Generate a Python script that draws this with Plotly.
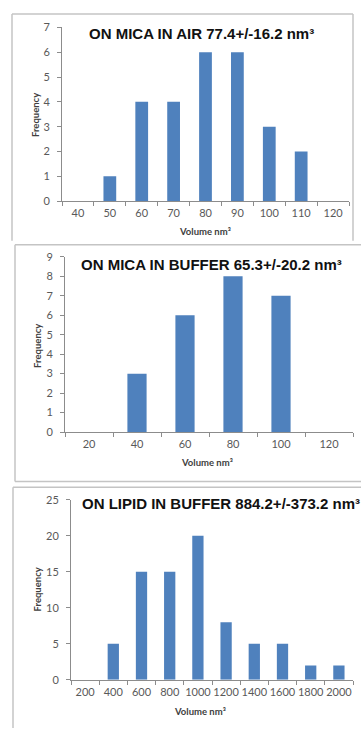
import plotly.graph_objects as go

W, H = 361, 734

cats1 = ["40", "50", "60", "70", "80", "90", "100", "110", "120"]
freq1 = [0, 1, 4, 4, 6, 6, 3, 2, 0]
title1 = "ON MICA IN AIR 77.4+/-16.2 nm³"

cats2 = ["20", "40", "60", "80", "100", "120"]
freq2 = [0, 3, 6, 8, 7, 0]
title2 = "ON MICA IN BUFFER 65.3+/-20.2 nm³"

cats3 = ["200", "400", "600", "800", "1000", "1200", "1400", "1600", "1800", "2000"]
freq3 = [0, 5, 15, 15, 20, 8, 5, 5, 2, 2]
title3 = "ON LIPID IN BUFFER 884.2+/-373.2 nm³"

xlabel = "Volume nm³"
ylabel = "Frequency"

BAR = "#4F81BD"
AXC = "#8c8c8c"
TICKC = "#595959"
TFONT = "Lato"


def px_x(x):
    return x / W


def px_y(y):
    return 1 - y / H


# (x_left, x_right, y_bottom(0), y_top(max)) in pixels
panels = [
    (cats1, freq1, 62, 349, 197.7, 20.7, 7, 1),
    (cats2, freq2, 65, 353, 432.7, 254.3, 9, 1),
    (cats3, freq3, 71, 353, 685, 501.7, 25, 5),
]

fig = go.Figure()
layout = {}
annotations = []
for i, (cats, vals, xl, xr, yb, yt, ymax, dt) in enumerate(panels, start=1):
    xa = "x" if i == 1 else f"x{i}"
    ya = "y" if i == 1 else f"y{i}"
    fig.add_trace(go.Bar(x=cats, y=vals, marker=dict(color=BAR, line=dict(width=0)),
                         xaxis=xa, yaxis=ya, showlegend=False, width=0.4))
    layout[f"xaxis{'' if i == 1 else i}"] = dict(
        domain=[px_x(xl), px_x(xr)], anchor=ya, type="category",
        categoryorder="array", categoryarray=cats,
        showline=True, linecolor=AXC, linewidth=1, ticks="outside", ticklen=4,
        tickcolor=AXC, tickson="boundaries", showgrid=False, zeroline=False,
        tickangle=0, ticklabelstandoff=2,
        tickfont=dict(family=TFONT, size=11, color=TICKC), fixedrange=True,
    )
    layout[f"yaxis{'' if i == 1 else i}"] = dict(
        domain=[px_y(yb), px_y(yt)], anchor=xa, range=[0, ymax], dtick=dt,
        showline=True, linecolor=AXC, linewidth=1, ticks="outside", ticklen=4,
        tickcolor=AXC, showgrid=False, zeroline=False, ticklabelstandoff=5,
        tickfont=dict(family=TFONT, size=11, color=TICKC), fixedrange=True,
    )

# titles
title_pos = [(201.5, 27, title1), (211.5, 262, title2), (80, 505, title3)]
for j, (cx, cy, t) in enumerate(title_pos):
    annotations.append(dict(
        x=px_x(cx), y=px_y(cy), xref="paper", yref="paper", text=t, showarrow=False,
        xanchor="left" if j == 2 else "center", yanchor="middle",
        font=dict(family="Liberation Sans", size=15, color="#111111", weight="bold"),
    ))

# axis titles
xt_pos = [(205, 229), (207, 464), (200, 717)]
yt_pos = [(35, 110), (38, 345), (37, 593)]
for (cx, cy) in xt_pos:
    annotations.append(dict(
        x=px_x(cx), y=px_y(cy), xref="paper", yref="paper", text=xlabel, showarrow=False,
        xanchor="center", yanchor="middle",
        font=dict(family=TFONT, size=9.5, color="#404040", weight="bold"),
    ))
for (cx, cy) in yt_pos:
    annotations.append(dict(
        x=px_x(cx), y=px_y(cy), xref="paper", yref="paper", text=ylabel, showarrow=False,
        xanchor="center", yanchor="middle", textangle=-90,
        font=dict(family=TFONT, size=9.5, color="#404040", weight="bold"),
    ))

BOX = "#c4c4c4"
shapes = []


def line(x0, y0, x1, y1):
    shapes.append(dict(type="line", xref="paper", yref="paper",
                       x0=px_x(x0), y0=px_y(y0), x1=px_x(x1), y1=px_y(y1),
                       line=dict(color=BOX, width=1.5)))


# box 1
line(12, 7, 353, 7)
line(12, 7, 12, 238)
line(353, 7, 353, 238)
# box 2
line(15, 242, 361, 242)
line(15, 242, 15, 483)
line(15, 483, 361, 483)
# box 3
line(13, 489, 361, 489)
line(13, 489, 13, 734)

fig.update_layout(
    width=W, height=H, margin=dict(l=0, r=0, t=0, b=0),
    paper_bgcolor="white", plot_bgcolor="white",
    bargap=0.6, annotations=annotations, shapes=shapes,
    **layout,
)

fig.write_html("out.html", config={"displayModeBar": False},
               post_script="document.body.style.margin='0';document.body.style.overflow='hidden';")
